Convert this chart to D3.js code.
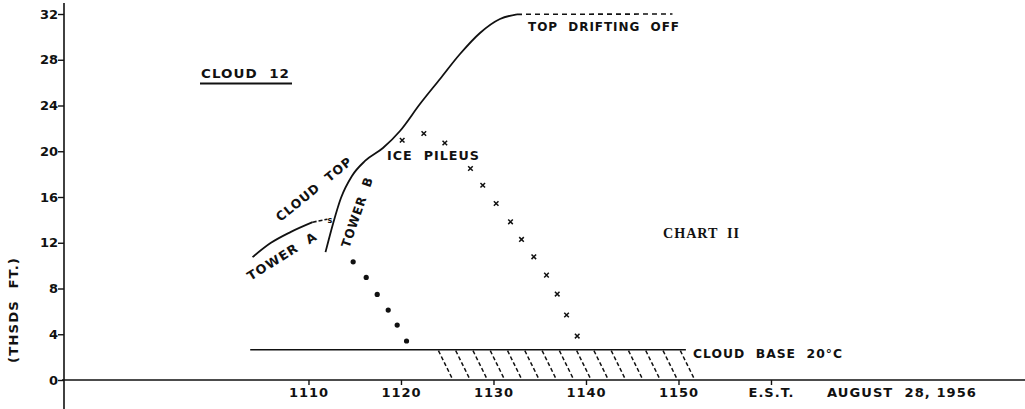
<!DOCTYPE html>
<html>
<head>
<meta charset="utf-8">
<script src="https://cdn.jsdelivr.net/npm/d3@7"></script>
<style>
  html, body { margin: 0; padding: 0; background: #fff; }
  svg { display: block; }
  .lbl { font-family: "DejaVu Sans", sans-serif; font-weight: bold; fill: #111; letter-spacing: 1px; }
</style>
</head>
<body>
<svg id="chart" width="1025" height="409"></svg>
<script>
// ---------- data (time as E.S.T. HHMM within the 11 o'clock hour, height in thousands of feet) ----------
const yTickValues = [0, 4, 8, 12, 16, 20, 24, 28, 32];
const yTickLabels = ["0", "4", "8", "12", "16", "20", "24", "28", "32"];
const xTickValues = [1110, 1120, 1130, 1140, 1150, 1160];
const xTickLabels = ["1110", "1120", "1130", "1140", "1150", "E.S.T."];

const towerATime   = [1103.95, 1105.9, 1108.05, 1110.45];
const towerAHeight = [10.74, 11.97, 12.93, 13.8];
const towerAFadeTime   = [1110.45, 1112.05];
const towerAFadeHeight = [13.8, 14.06];

const cloudTopTime   = [1111.84, 1112.7, 1113.51, 1114.7, 1116.11, 1118.05, 1119.89, 1122.05, 1124.22, 1126.38, 1128.54, 1130.7, 1132.54];
const cloudTopHeight = [11.18, 13.8, 15.91, 17.84, 19.15, 20.28, 21.77, 24.13, 26.32, 28.5, 30.34, 31.56, 31.97];
const driftTime   = [1132.54, 1149.35];
const driftHeight = [31.97, 32.0];

const dotTime   = [1114.83, 1116.24, 1117.43, 1118.62, 1119.59, 1120.6];
const dotHeight = [10.33, 8.97, 7.48, 6.11, 4.80, 3.41];

const pileusTime   = [1120.13, 1122.47, 1124.74, 1127.51, 1128.84, 1130.29, 1131.84, 1133.03, 1134.36, 1135.73, 1136.89, 1137.9, 1139.05];
const pileusHeight = [20.96, 21.55, 20.72, 18.49, 17.03, 15.43, 13.83, 12.29, 10.77, 9.17, 7.51, 5.68, 3.84];

const cloudBaseTime   = [1103.7, 1150.8];
const cloudBaseHeight = [2.65, 2.65];
const hatchTime = [1124.05, 1150.2];

// ---------- scales ----------
const svg = d3.select("#chart");
const x = d3.scaleLinear().domain([1083.57, 1187.46]).range([64, 1025]);
const y = d3.scaleLinear().domain([0, 32]).range([380, 14]);
const ink = "#111";

// ---------- axes ----------
svg.append("line").attr("x1", 64).attr("x2", 64).attr("y1", 3).attr("y2", 409)
  .attr("stroke", ink).attr("stroke-width", 1.6);
svg.append("line").attr("x1", 62).attr("x2", 1025).attr("y1", y(0)).attr("y2", y(0))
  .attr("stroke", ink).attr("stroke-width", 1.6);

const yAxis = svg.append("g").attr("transform", "translate(64,0)")
  .call(d3.axisLeft(y).tickValues(yTickValues).tickFormat((d, i) => yTickLabels[i]).tickSize(6).tickPadding(0).tickSizeOuter(0));
yAxis.select(".domain").remove();
yAxis.selectAll("line").attr("stroke", ink).attr("stroke-width", 1.4);
yAxis.selectAll("text").attr("class", "lbl").attr("font-size", 13).style("letter-spacing", "0px");

const xAxis = svg.append("g").attr("transform", `translate(0,${y(0)})`)
  .call(d3.axisBottom(x).tickValues(xTickValues).tickFormat((d, i) => xTickLabels[i]).tickSize(5).tickPadding(3).tickSizeOuter(0));
xAxis.select(".domain").remove();
xAxis.selectAll("line").attr("stroke", ink).attr("stroke-width", 1.4);
xAxis.selectAll("text").attr("class", "lbl").attr("font-size", 13);

// ---------- cloud base + hatching ----------
const line = d3.line().x(d => x(d[0])).y(d => y(d[1]));
svg.append("path").attr("d", line(d3.zip(cloudBaseTime, cloudBaseHeight)))
  .attr("fill", "none").attr("stroke", ink).attr("stroke-width", 1.6);

const hx0 = x(hatchTime[0]), hx1 = x(hatchTime[1]);
const hTop = y(cloudBaseHeight[0]) + 1, hBot = y(0) - 1;
const nHatch = 15;
const hatchG = svg.append("g");
for (let i = 0; i < nHatch; i++) {
  const xt = hx0 + (hx1 - hx0) * i / (nHatch - 1);
  hatchG.append("line").attr("x1", xt).attr("y1", hTop).attr("x2", xt + 14).attr("y2", hBot)
    .attr("stroke", ink).attr("stroke-width", 1.5).attr("stroke-dasharray", "4,2.5");
}

// ---------- cloud top curves ----------
const curve = d3.line().x(d => x(d[0])).y(d => y(d[1])).curve(d3.curveMonotoneX);
svg.append("path").attr("d", curve(d3.zip(towerATime, towerAHeight)))
  .attr("fill", "none").attr("stroke", ink).attr("stroke-width", 1.8);
svg.append("path").attr("d", line(d3.zip(towerAFadeTime, towerAFadeHeight)))
  .attr("fill", "none").attr("stroke", ink).attr("stroke-width", 1.6).attr("stroke-dasharray", "4,2");
svg.append("path").attr("d", curve(d3.zip(cloudTopTime, cloudTopHeight)))
  .attr("fill", "none").attr("stroke", ink).attr("stroke-width", 1.8);
svg.append("path").attr("d", line(d3.zip(driftTime, driftHeight)))
  .attr("fill", "none").attr("stroke", ink).attr("stroke-width", 1.6).attr("stroke-dasharray", "5,4");

// small "s" mark where towers meet
svg.append("text").attr("class", "lbl").attr("x", x(towerAFadeTime[1]) + 3).attr("y", y(towerAFadeHeight[1]) + 4)
  .attr("font-size", 8).attr("text-anchor", "middle").text("s");

// ---------- radar echo dots ----------
svg.append("g").selectAll("circle").data(d3.zip(dotTime, dotHeight)).join("circle")
  .attr("cx", d => x(d[0])).attr("cy", d => y(d[1])).attr("r", 2.6).attr("fill", ink);

// ---------- ice pileus crosses ----------
svg.append("g").selectAll("path").data(d3.zip(pileusTime, pileusHeight)).join("path")
  .attr("transform", d => `translate(${x(d[0])},${y(d[1])})`)
  .attr("d", "M-2.3,-2.3L2.3,2.3M2.3,-2.3L-2.3,2.3")
  .attr("stroke", ink).attr("stroke-width", 1.5).attr("fill", "none");

// ---------- labels ----------
function label(txt, px, py, size, opts = {}) {
  const t = svg.append("text").attr("class", "lbl").attr("font-size", size)
    .attr("dominant-baseline", "central").attr("text-anchor", opts.anchor || "start")
    .attr("transform", `translate(${px},${py})` + (opts.rot ? ` rotate(${opts.rot})` : ""))
    .style("white-space", "pre").text(txt);
  if (opts.len) t.attr("textLength", opts.len).attr("lengthAdjust", "spacingAndGlyphs");
  if (opts.family) t.style("font-family", opts.family);
  return t;
}
label("CLOUD  12", 201, 73, 13, { len: 89 });
svg.append("line").attr("x1", 200).attr("x2", 292).attr("y1", 83.5).attr("y2", 83.5)
  .attr("stroke", ink).attr("stroke-width", 2);
label("TOP  DRIFTING  OFF", 528, 26, 12.5, { len: 152 });
label("ICE  PILEUS", 387, 155, 12.5, { len: 93 });
label("CHART  II", 663, 233, 15, { len: 77, family: "'Liberation Serif', serif" });
label("CLOUD  BASE  20°C", 693, 353, 12.5, { len: 150 });
label("AUGUST  28, 1956", 827, 392, 12.5, { len: 150 });
label("(THSDS  FT.)", 14, 310, 12, { anchor: "middle", rot: -90, len: 106 });
label("CLOUD  TOP", 314, 189, 12.5, { anchor: "middle", rot: -39, len: 94 });
label("TOWER  A", 282, 256, 12.5, { anchor: "middle", rot: -32, len: 80 });
label("TOWER  B", 357, 212, 12.5, { anchor: "middle", rot: -71, len: 74 });
</script>
</body>
</html>
